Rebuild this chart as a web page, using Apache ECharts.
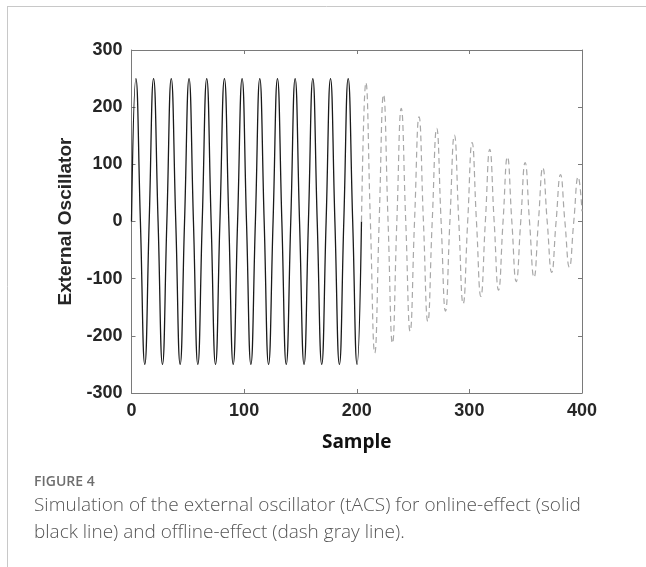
<!DOCTYPE html>
<html>
<head>
<meta charset="utf-8">
<script src="https://cdn.jsdelivr.net/npm/echarts@6/dist/echarts.min.js"></script>
<style>
html,body{margin:0;padding:0;background:#fff;}
#c{width:646px;height:567px;}
</style>
</head>
<body>
<div id="c"></div>
<script>
// Axis ticks
var xTicks = [0, 100, 200, 300, 400];
var yTicks = [-300, -200, -100, 0, 100, 200, 300];

// Online effect (solid black): extrema and zero crossings
var onlineX = [0, 3.9, 7.9, 11.8, 15.7, 19.6, 23.6, 27.5, 31.4, 35.3, 39.3, 43.2, 47.1, 51.1, 55.0, 58.9,
  62.8, 66.8, 70.7, 74.6, 78.5, 82.5, 86.4, 90.3, 94.2, 98.2, 102.1, 106.0, 110.0, 113.9, 117.8, 121.7,
  125.7, 129.6, 133.5, 137.4, 141.4, 145.3, 149.2, 153.2, 157.1, 161.0, 164.9, 168.9, 172.8, 176.7,
  180.6, 184.6, 188.5, 192.4, 196.4, 200.3, 204.2];
var onlineY = [0, 250, 0, -250, 0, 250, 0, -250, 0, 250, 0, -250, 0, 250, 0, -250,
  0, 250, 0, -250, 0, 250, 0, -250, 0, 250, 0, -250, 0, 250, 0, -250,
  0, 250, 0, -250, 0, 250, 0, -250, 0, 250, 0, -250, 0, 250,
  0, -250, 0, 250, 0, -250, 0];

// Offline effect (dashed gray): decaying oscillation
var offlineX = [204.2, 208.1, 212.1, 216.0, 219.9, 223.8, 227.8, 231.7, 235.6, 239.5, 243.5, 247.4,
  251.3, 255.3, 259.2, 263.1, 267.0, 271.0, 274.9, 278.8, 282.7, 286.7, 290.6, 294.5, 298.5, 302.4,
  306.3, 310.2, 314.2, 318.1, 322.0, 325.9, 329.9, 333.8, 337.7, 341.6, 345.6, 349.5, 353.4, 357.4,
  361.3, 365.2, 369.1, 373.1, 377.0, 380.9, 384.8, 388.8, 392.7, 396.6, 400];
var offlineY = [0, 243, 0, -230, 0, 222, 0, -213, 0, 198, 0, -192,
  0, 183, 0, -175, 0, 163, 0, -157, 0, 151, 0, -144, 0, 138,
  0, -131, 0, 126, 0, -120, 0, 113, 0, -105, 0, 103, 0, -98,
  0, 94, 0, -89, 0, 82, 0, -80, 0, 78, 18];

function pairs(xs, ys) { return xs.map(function (x, i) { return [x, ys[i]]; }); }

var axisGray = '#7a7a7a';
var labelStyle = { color: '#262626', fontFamily: 'Liberation Sans, Arial, sans-serif', fontWeight: 'bold', fontSize: 18 };
function boxAxisLine() { return { show: true, onZero: false, lineStyle: { color: axisGray, width: 1 } }; }
function boxTick() { return { show: true, inside: true, length: 4, lineStyle: { color: axisGray } }; }

var chart = echarts.init(document.getElementById('c'), null, { renderer: 'canvas' });
chart.setOption({
  animation: false,
  backgroundColor: '#ffffff',
  grid: { left: 131.5, right: 64, top: 50, bottom: 174, containLabel: false },
  xAxis: [{
    type: 'value', min: xTicks[0], max: xTicks[xTicks.length - 1], interval: 100, position: 'bottom',
    name: 'Sample', nameLocation: 'middle', nameGap: 40,
    nameTextStyle: { color: '#111', fontFamily: 'Open Sans, sans-serif', fontWeight: 'bold', fontSize: 19 },
    axisLine: boxAxisLine(), axisTick: boxTick(),
    axisLabel: Object.assign({ margin: 9 }, labelStyle),
    splitLine: { show: false }
  }, {
    type: 'value', min: xTicks[0], max: xTicks[xTicks.length - 1], interval: 100, position: 'top',
    axisLine: boxAxisLine(), axisTick: boxTick(),
    axisLabel: { show: false }, splitLine: { show: false }
  }],
  yAxis: [{
    type: 'value', min: yTicks[0], max: yTicks[yTicks.length - 1], interval: 100, position: 'left',
    name: 'External Oscillator', nameLocation: 'middle', nameGap: 52, nameRotate: 90,
    nameTextStyle: { color: '#262626', fontFamily: 'Liberation Sans, Arial, sans-serif', fontWeight: 'bold', fontSize: 19 },
    axisLine: boxAxisLine(), axisTick: boxTick(),
    axisLabel: Object.assign({ margin: 9 }, labelStyle),
    splitLine: { show: false }
  }, {
    type: 'value', min: yTicks[0], max: yTicks[yTicks.length - 1], interval: 100, position: 'right',
    axisLine: boxAxisLine(), axisTick: boxTick(),
    axisLabel: { show: false }, splitLine: { show: false }
  }],
  series: [{
    name: 'online', type: 'line', xAxisIndex: 0, yAxisIndex: 0,
    data: pairs(onlineX, onlineY), smooth: 0.5, showSymbol: false, symbol: 'none',
    lineStyle: { color: '#1a1a1a', width: 1.3 }
  }, {
    name: 'offline', type: 'line', xAxisIndex: 0, yAxisIndex: 0,
    data: pairs(offlineX, offlineY), smooth: 0.5, showSymbol: false, symbol: 'none',
    lineStyle: { color: '#a8a8a8', width: 1.2, type: [6, 4] }
  }],
  graphic: [
    { type: 'line', shape: { x1: 7, y1: 6.5, x2: 646, y2: 6.5 }, style: { stroke: '#c8c8c8', lineWidth: 1 } },
    { type: 'line', shape: { x1: 7.5, y1: 6.5, x2: 7.5, y2: 567 }, style: { stroke: '#c8c8c8', lineWidth: 1 } },
    { type: 'text', left: 34, top: 475, style: { text: 'FIGURE 4', fill: '#6e6e6e', font: '600 14px "Open Sans", sans-serif' } },
    { type: 'text', left: 34, top: 496, style: { text: 'Simulation of the external oscillator (tACS) for online-effect (solid', fill: '#555555', font: '300 19px "Open Sans", sans-serif' } },
    { type: 'text', left: 34, top: 523, style: { text: 'black line) and offline-effect (dash gray line).', fill: '#555555', font: '300 19px "Open Sans", sans-serif' } }
  ]
});
</script>
</body>
</html>
